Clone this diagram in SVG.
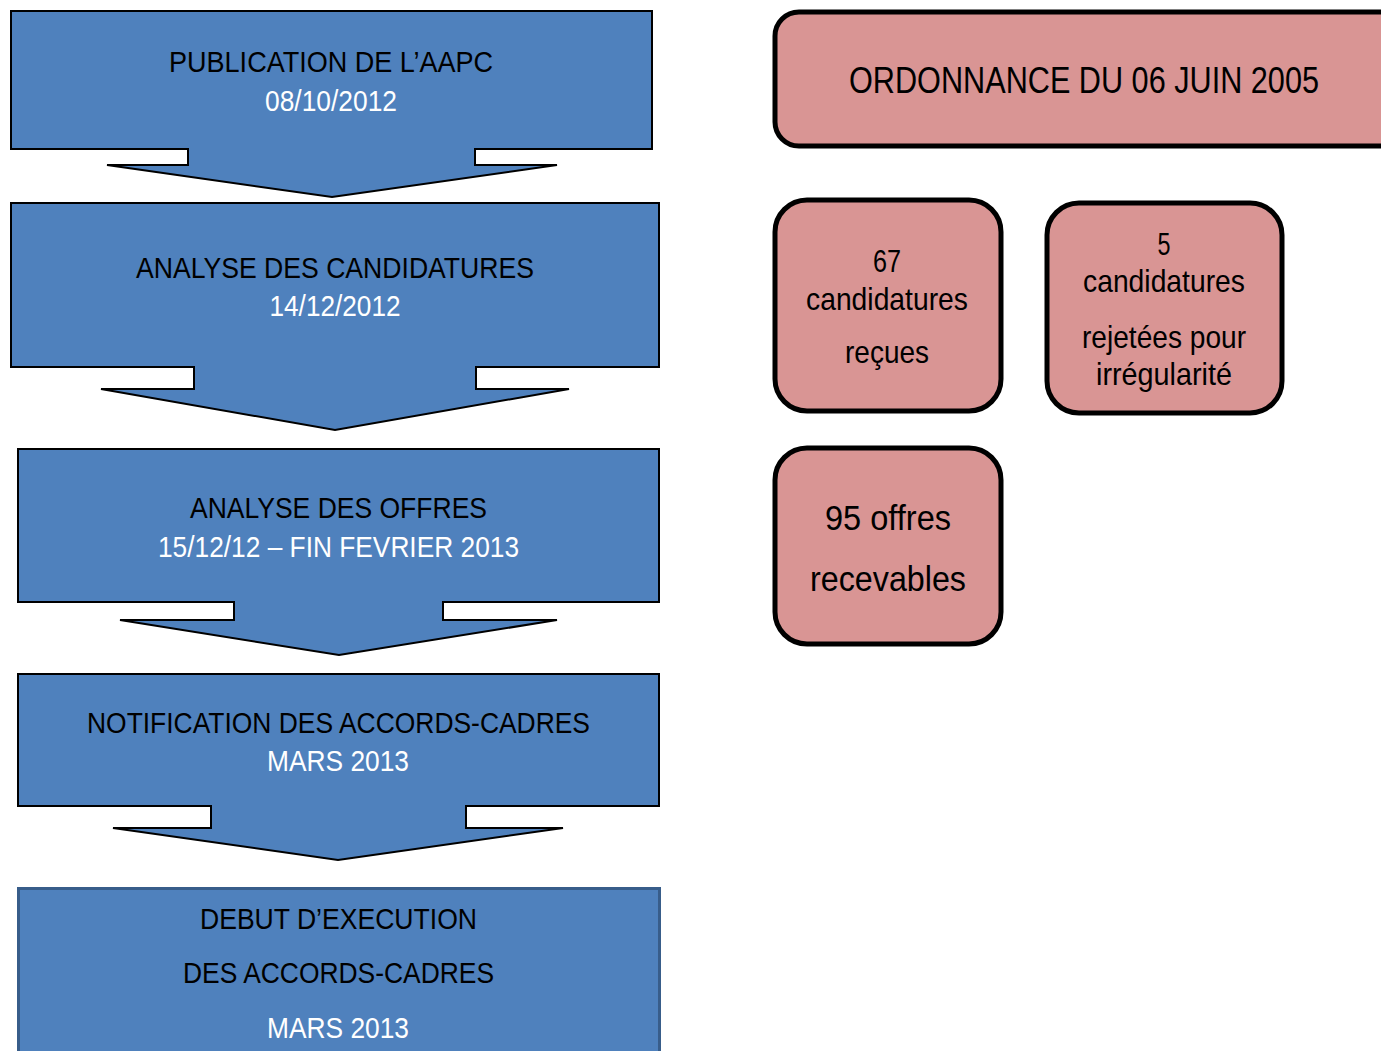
<svg xmlns="http://www.w3.org/2000/svg" width="1381" height="1051" viewBox="0 0 1381 1051">
<style>
text{font-family:"Liberation Sans Narrow","Arial Narrow","Liberation Sans",sans-serif;text-anchor:middle}
.arr{fill:#4f81bd;stroke:#000;stroke-width:2}
.last{fill:#4f81bd;stroke:#385d8a;stroke-width:3}
.pink{fill:#d99594;stroke:#000;stroke-width:5}
.b{fill:#000;font-size:29px}
.w{fill:#fff;font-size:29px}
.p{fill:#000;font-size:32px}
.q{fill:#000;font-size:35px}
</style>
<rect width="1381" height="1051" fill="#fff"/>
<g id="step1">
<path class="arr" d="M11,11 H652 V149 H475 V165 H557 L332,197 L107,165 H188 V149 H11 Z"/>
<text class="b" x="331" y="72" textLength="324" lengthAdjust="spacingAndGlyphs">PUBLICATION DE L’AAPC</text>
<text class="w" x="331" y="111" textLength="132" lengthAdjust="spacingAndGlyphs">08/10/2012</text>
</g>
<g id="step2">
<path class="arr" d="M11,203 H659 V367 H476 V389 H569 L335,430 L101,389 H194 V367 H11 Z"/>
<text class="b" x="335" y="278" textLength="398" lengthAdjust="spacingAndGlyphs">ANALYSE DES CANDIDATURES</text>
<text class="w" x="335" y="316" textLength="131" lengthAdjust="spacingAndGlyphs">14/12/2012</text>
</g>
<g id="step3">
<path class="arr" d="M18,449 H659 V602 H443 V620 H557 L339,655 L120,620 H234 V602 H18 Z"/>
<text class="b" x="338.5" y="518" textLength="297" lengthAdjust="spacingAndGlyphs">ANALYSE DES OFFRES</text>
<text class="w" x="338.5" y="557" textLength="361" lengthAdjust="spacingAndGlyphs">15/12/12 – FIN FEVRIER 2013</text>
</g>
<g id="step4">
<path class="arr" d="M18,674 H659 V806 H466 V828 H563 L338,860 L113,828 H211 V806 H18 Z"/>
<text class="b" x="338.5" y="733" textLength="503" lengthAdjust="spacingAndGlyphs">NOTIFICATION DES ACCORDS-CADRES</text>
<text class="w" x="338" y="771" textLength="142" lengthAdjust="spacingAndGlyphs">MARS 2013</text>
</g>
<g id="step5">
<rect class="last" x="18.5" y="888.5" width="641" height="180"/>
<text class="b" x="338.5" y="929" textLength="277" lengthAdjust="spacingAndGlyphs">DEBUT D’EXECUTION</text>
<text class="b" x="338.5" y="983" textLength="311" lengthAdjust="spacingAndGlyphs">DES ACCORDS-CADRES</text>
<text class="w" x="338" y="1038" textLength="142" lengthAdjust="spacingAndGlyphs">MARS 2013</text>
</g>
<g id="ordonnance">
<rect class="pink" x="775" y="12" width="640" height="134" rx="24"/>
<text x="1084" y="93" style="font-size:37px;fill:#000" textLength="470" lengthAdjust="spacingAndGlyphs">ORDONNANCE DU 06 JUIN 2005</text>
</g>
<g id="recues">
<rect class="pink" x="775" y="200" width="226" height="211" rx="32"/>
<text class="p" x="887" y="272" textLength="28" lengthAdjust="spacingAndGlyphs">67</text>
<text class="p" x="887" y="310" textLength="162" lengthAdjust="spacingAndGlyphs">candidatures</text>
<text class="p" x="887" y="363" textLength="84" lengthAdjust="spacingAndGlyphs">reçues</text>
</g>
<g id="rejetees">
<rect class="pink" x="1047" y="203" width="235" height="210" rx="32"/>
<text class="p" x="1164" y="255" textLength="13" lengthAdjust="spacingAndGlyphs">5</text>
<text class="p" x="1164" y="292" textLength="162" lengthAdjust="spacingAndGlyphs">candidatures</text>
<text class="p" x="1164" y="348" textLength="164" lengthAdjust="spacingAndGlyphs">rejetées pour</text>
<text class="p" x="1164" y="385" textLength="136" lengthAdjust="spacingAndGlyphs">irrégularité</text>
</g>
<g id="offres">
<rect class="pink" x="775" y="448" width="226" height="196" rx="32"/>
<text class="q" x="888" y="530" textLength="126" lengthAdjust="spacingAndGlyphs">95 offres</text>
<text class="q" x="888" y="591" textLength="156" lengthAdjust="spacingAndGlyphs">recevables</text>
</g>
<g id="connectors"></g>
</svg>
